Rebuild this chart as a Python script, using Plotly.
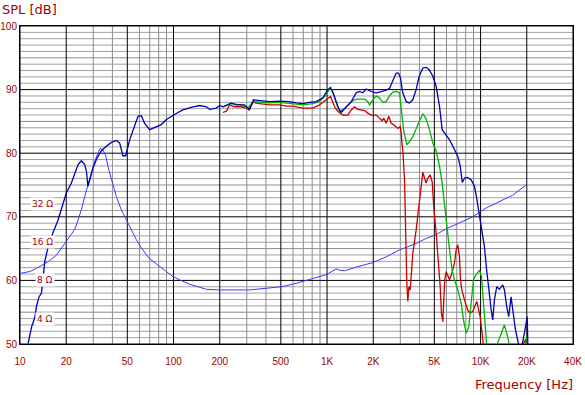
import math
import plotly.graph_objects as go

# ---------------- data ----------------
spl_freq = [11.3, 11.9, 12.5, 12.8, 13.3, 13.8, 14.1, 14.5, 15.2, 16.4, 17.7, 18.6, 20.0, 21.6, 22.7,
            23.9, 25.1, 26.4, 27.1, 27.7, 28.7, 29.9, 31.7, 33.9, 36.5, 39.4, 42.4, 44.6, 46.8, 48.8,
            51.8, 55.8, 58.7, 61.7, 64.8, 69.9, 77.3, 83.3, 89.8, 99.1, 106.8, 115, 134, 148, 163.5,
            172, 190, 200, 210, 238, 256, 290, 313, 332, 363, 422, 490, 569, 630, 696, 769, 851, 939,
            1012, 1050, 1090, 1140, 1180, 1237, 1334, 1438, 1549, 1628, 1710, 1800, 1940, 2090, 2254,
            2427, 2553, 2680, 2822, 2921, 3010, 3115, 3280, 3445, 3620, 3804, 3985, 4205, 4423, 4645,
            4887, 5140, 5406, 5623, 5970, 6280, 6600, 7110, 7380, 7600, 7870, 8260, 8690, 9130, 9440,
            9840, 10230, 10590, 10960, 11300, 11720, 12000, 12300, 12740, 13270, 13950, 14300, 14800,
            15250, 15800, 16370, 16870, 17460, 18200, 19450, 20140, 20370]
spl_db = [50.1, 52.7, 54.2, 55.9, 57.4, 58.0, 60.1, 63.0, 65.1, 67.5, 69.5, 71.1, 73.7, 75.3, 76.9,
          78.2, 78.8, 78.2, 77.1, 74.8, 76.1, 77.7, 79.2, 80.4, 81.1, 81.7, 82.0, 81.6, 79.6, 79.6,
          82.1, 84.5, 85.8, 85.9, 84.7, 83.7, 84.2, 84.5, 85.3, 86.0, 86.4, 86.8, 87.3, 87.5, 87.3,
          86.9, 87.1, 87.5, 87.3, 87.9, 87.6, 87.6, 86.9, 88.4, 88.3, 88.1, 88.2, 88.1, 87.9, 87.8, 88.0, 88.1, 88.7,
          90.0, 90.3, 89.6, 88.2, 87.2, 86.4, 87.3, 88.1, 89.5, 89.7, 89.5, 90.1, 89.7, 89.5, 89.7,
          89.9, 90.2, 91.3, 92.6, 92.6, 91.8, 89.5, 88.1, 87.9, 88.4, 90.0, 92.1, 93.4, 93.5, 93.1,
          92.1, 90.5, 87.3, 83.7, 82.9, 82.1, 81.1, 79.5, 77.9, 75.4, 76.1, 76.2, 75.8, 74.8, 72.9,
          70.3, 67.9, 65.3, 61.6, 58.5, 55.4, 53.8, 56.9, 59.0, 58.6, 59.3, 58.5, 55.9,
          54.3, 57.4, 54.8, 52.2, 50.6, 48.5, 52.2, 54.3, 48.5]

green_freq = [210, 238, 276, 305, 329, 363, 422, 490, 569, 696, 808, 893, 988, 1054, 1120, 1175,
              1206, 1267, 1366, 1472, 1587, 1754, 1843, 1891, 1988, 2090, 2197, 2309, 2427, 2553,
              2680, 2822, 2965, 3041, 3148, 3308, 3445, 3620, 3804, 3985, 4205, 4423, 4645, 4887,
              5140, 5406, 5623, 5800, 6000, 6280, 6530, 6760, 7110, 7480, 7740, 8060, 8380, 8690,
              8990, 9360, 9840, 10140, 10450, 10760, 10960, 11770, 13270, 14300, 15030, 15400,
              17400, 19600, 20200]
green_db = [87.3, 87.8, 87.6, 87.1, 88.1, 88.0, 87.9, 88.0, 87.8, 87.6, 87.8, 88.1, 89.2, 90.4, 88.9, 87.3,
            86.6, 86.8, 87.6, 88.3, 88.5, 88.5, 88.1, 87.6, 88.4, 89.0, 88.7, 88.0, 88.1, 89.0,
            89.6, 89.7, 89.5, 86.8, 83.7, 81.3, 81.8, 82.6, 83.7, 85.0, 86.2, 85.4, 83.7, 81.6,
            80.3, 77.9, 75.3, 72.1, 68.5, 64.8, 61.6, 60.1, 58.5, 56.4, 53.8, 51.7, 52.7, 56.9,
            60.1, 60.9, 61.6, 60.6, 55.9, 51.7, 49.8, 47.5, 51.1, 53.0, 51.1, 49.8,
            47.5, 49.8, 51.4]

red_freq = [210, 221, 232, 250, 276, 298, 310, 329, 363, 422, 490, 545, 599, 696, 808, 893, 988,
            1054, 1120, 1175, 1267, 1366, 1438, 1510, 1587, 1670, 1754, 1843, 1940, 2090, 2197,
            2287, 2344, 2427, 2525, 2618, 2710, 2793, 2890, 2997, 3041, 3088, 3115, 3197, 3246,
            3308, 3358, 3410, 3482, 3535, 3620, 3804, 3960, 4103, 4205, 4315, 4423, 4530, 4700,
            4842, 4955, 5140, 5345, 5458, 5560, 5675, 5757, 5843, 5970, 6117, 6280, 6495, 6760,
            6935, 7110, 7290, 7400, 7545, 7740, 7978, 8260, 8555, 8893, 9226, 9440, 9686, 9935,
            10180, 10400, 12300, 16600, 19770, 20100]
red_db = [86.4, 86.6, 87.6, 87.3, 87.3, 87.1, 86.8, 88.0, 87.8, 87.6, 87.6, 87.4, 87.4, 87.1, 87.1, 87.6, 88.4,
          88.9, 87.3, 86.6, 86.0, 86.0, 86.8, 87.3, 86.9, 86.8, 86.7, 86.3, 86.0, 86.0, 85.5,
          85.1, 85.5, 84.7, 85.8, 84.7, 84.5, 84.2, 83.9, 84.2, 83.2, 81.1, 80.5, 75.8, 67.9,
          59.6, 56.7, 59.0, 58.5, 61.6, 64.3, 67.9, 71.6, 74.8, 77.0, 76.1, 75.3, 76.1, 76.6,
          75.5, 71.6, 67.4, 62.7, 59.0, 54.8, 53.5, 56.9, 60.1, 61.4, 60.6, 60.1, 61.1, 62.7,
          64.8, 65.6, 63.7, 60.1, 58.5, 57.4, 56.4, 55.3, 54.9, 55.1, 56.1, 56.7, 55.6, 54.3,
          52.2, 50.1, 47.5, 47.5, 50.8, 48.0]

imp_freq = [10, 11.6, 12.8, 14.1, 15.6, 17.3, 18.6, 20.0, 21.6, 22.7, 23.9, 25.1, 26.4, 27.7, 29.2,
            30.6, 32.2, 33.4, 34.7, 36.1, 37.4, 39.4, 42.4, 45.7, 49.3, 53.1, 57.3, 61.7, 68.1,
            73.4, 81.2, 89.8, 99.1, 109.6, 127.3, 163.5, 200, 313, 402, 503, 599, 696, 808, 988,
            1148, 1206, 1300, 1549, 1988, 2427, 2965, 3280, 3804, 4423, 5140, 5970, 7290, 8893,
            10880, 13270, 16200, 19800]
imp_db = [61.1, 61.4, 61.9, 62.5, 63.1, 64.0, 65.1, 66.1, 67.2, 68.0, 69.5, 71.1, 73.2, 75.0, 76.9,
          78.7, 80.0, 80.8, 80.5, 79.7, 77.9, 75.8, 73.2, 71.1, 69.5, 67.9, 66.4, 65.1, 63.7,
          63.0, 62.2, 61.4, 60.6, 60.1, 59.4, 58.6, 58.5, 58.5, 58.8, 59.0, 59.4, 59.8, 60.3, 60.9,
          61.8, 61.6, 61.5, 62.1, 62.8, 63.7, 64.8, 65.2, 65.8, 66.6, 67.2, 68.1, 69.0, 70.0,
          71.4, 72.4, 73.4, 75.0]

x_tick_vals = [10, 20, 50, 100, 200, 500, 1000, 2000, 5000, 10000, 20000, 40000]
x_tick_text = ["10", "20", "50", "100", "200", "500", "1K", "2K", "5K", "10K", "20K", "40K"]
x_minor_grid = [30, 40, 60, 70, 80, 90, 300, 400, 600, 700, 800, 900,
                3000, 4000, 6000, 7000, 8000, 9000]
y_tick_vals = [50, 60, 70, 80, 90, 100]
y_tick_text = ["50", "60", "70", "80", "90", "100"]
y_grid_vals = list(range(50, 101))

imp_labels = ["4 \u03a9", "8 \u03a9", "16 \u03a9", "32 \u03a9"]
imp_label_db = [54, 60, 66, 72]

# ---------------- styling ----------------
TXT = "#A00000"
GRAY = "#8C8C8C"
LGRAY = "#A0A0A0"
TICKFONT = dict(family="Liberation Sans", size=10, color=TXT)

fig = go.Figure()

fig.add_trace(go.Scatter(x=imp_freq, y=imp_db, mode="lines",
                         line=dict(color="#3A3AFF", width=1), hoverinfo="skip"))
fig.add_trace(go.Scatter(x=red_freq, y=red_db, mode="lines",
                         line=dict(color="#C80000", width=1.3), hoverinfo="skip"))
fig.add_trace(go.Scatter(x=green_freq, y=green_db, mode="lines",
                         line=dict(color="#00B400", width=1.3), hoverinfo="skip"))
fig.add_trace(go.Scatter(x=spl_freq, y=spl_db, mode="lines",
                         line=dict(color="#0000B4", width=1.3), hoverinfo="skip"))

shapes = []
for v in y_grid_vals:
    if v % 10 == 0:
        continue
    col = GRAY if v % 5 == 0 else LGRAY
    shapes.append(dict(type="line", xref="paper", yref="y", x0=0, x1=1, y0=v, y1=v,
                       line=dict(color=col, width=1), layer="below"))
for f in x_minor_grid:
    shapes.append(dict(type="line", xref="x", yref="paper", x0=f, x1=f, y0=0, y1=1,
                       line=dict(color=GRAY, width=1), layer="below"))
for v in y_tick_vals:
    shapes.append(dict(type="line", xref="paper", yref="y", x0=0, x1=1, y0=v, y1=v,
                       line=dict(color="black", width=1), layer="below"))
for f in x_tick_vals:
    shapes.append(dict(type="line", xref="x", yref="paper", x0=f, x1=f, y0=0, y1=1,
                       line=dict(color="black", width=1), layer="below"))

annotations = []
for lab, db in zip(imp_labels, imp_label_db):
    annotations.append(dict(x=0.064, xref="paper", y=db, yref="y", text=lab, showarrow=False,
                            xanchor="right", yanchor="middle", bgcolor="white",
                            font=dict(family="DejaVu Sans", size=9, color=TXT),
                            borderpad=1))
annotations.append(dict(x=0, xref="paper", y=1, yref="paper", text="SPL [dB]",
                        showarrow=False, xanchor="left", yanchor="middle", xshift=-20, yshift=17,
                        font=dict(family="DejaVu Sans", size=13, color=TXT)))
annotations.append(dict(x=1, xref="paper", y=0, yref="paper", text="Frequency [Hz]",
                        showarrow=False, xanchor="right", yanchor="middle", xshift=2, yshift=-40,
                        font=dict(family="DejaVu Sans", size=13, color=TXT)))

fig.update_layout(
    width=585, height=395,
    margin=dict(l=20, r=12, t=26, b=51),
    paper_bgcolor="white", plot_bgcolor="white",
    showlegend=False,
    shapes=shapes,
    annotations=annotations,
    xaxis=dict(type="log", range=[1, math.log10(40000)], tickvals=x_tick_vals,
               ticktext=x_tick_text, showgrid=False, zeroline=False, automargin=False,
               showline=True, linecolor="black", linewidth=1, mirror=True,
               ticks="outside", ticklen=8, tickcolor="rgba(0,0,0,0)",
               tickfont=TICKFONT),
    yaxis=dict(range=[50, 100], tickvals=y_tick_vals, ticktext=y_tick_text,
               showgrid=False, zeroline=False, automargin=False,
               showline=True, linecolor="black", linewidth=1, mirror=True,
               ticks="", tickfont=TICKFONT),
)

fig.write_html("out.html", config={"displayModeBar": False},
               post_script="document.body.style.margin='0';document.body.style.overflow='hidden';")
